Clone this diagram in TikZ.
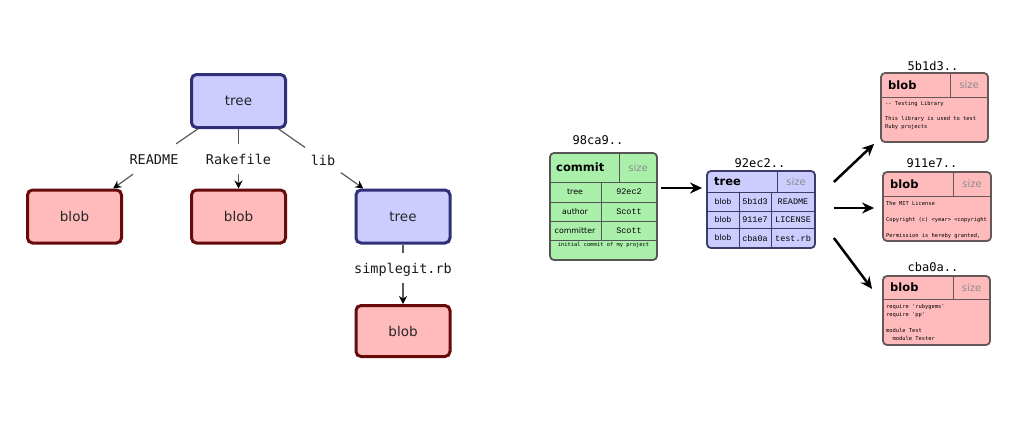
\documentclass[tikz,border=0pt]{standalone}
\usepackage{fontspec}
\setmainfont{DejaVu Sans}
\setmonofont{DejaVu Sans Mono}
\newfontfamily\cour{Liberation Mono}
\usetikzlibrary{arrows.meta,calc}
\definecolor{lblue}{RGB}{204,204,255}
\definecolor{dblue}{RGB}{48,48,122}
\definecolor{lred}{RGB}{255,187,187}
\definecolor{dred}{RGB}{102,10,10}
\definecolor{lgreen}{RGB}{170,240,170}
\definecolor{gframe}{RGB}{85,85,85}
\definecolor{tframe}{RGB}{60,60,105}
\definecolor{rframe}{RGB}{100,88,88}
\tikzset{
  lbox/.style={rounded corners=5, line width=3, minimum width=94, minimum height=53,
    font=\fontsize{13.5}{16}\selectfont, text=black!85, inner sep=0},
  ltree/.style={lbox, fill=lblue, draw=dblue},
  lblob/.style={lbox, fill=lred, draw=dred},
  flabel/.style={font=\ttfamily\fontsize{13.5}{16}\selectfont, text=black!90,
    minimum height=30, inner xsep=5.5, inner ysep=0, text height=10, text depth=0},
  lline/.style={line width=1.2, draw=black!65},
  larr/.style={lline, -{Stealth[length=8,width=8,color=black]}},
  rbox/.style={rounded corners=4, line width=1.8, inner sep=0},
  tline/.style={line width=1},
  hdr/.style={font=\bfseries\fontsize{11.5}{13}\selectfont, anchor=west, inner sep=0},
  sz/.style={font=\fontsize{10}{12}\selectfont, text=black!45, inner sep=0},
  cell/.style={font=\fontsize{7.8}{9}\selectfont, inner sep=0},
  mcell/.style={font=\cour\fontsize{8.5}{10}\selectfont, inner sep=0},
  msg/.style={font=\ttfamily\fontsize{5.4}{7}\selectfont, inner sep=0},
  hash/.style={font=\ttfamily\fontsize{12}{14}\selectfont, inner sep=0},
  btext/.style={font=\ttfamily\fontsize{5.4}{7.5}\selectfont, align=left, anchor=north west, inner sep=0},
  bigarr/.style={line width=2.5, -{Stealth[length=12,width=11]}}
}
\begin{document}
\begin{tikzpicture}[x=1pt,y=-1pt]
\useasboundingbox[fill=white] (0,0) rectangle (1026,421);

% ---------- left tree ----------
\node[ltree] (t1) at (238.5,101) {tree};
\node[lblob] (b1) at (74.5,216.5) {blob};
\node[lblob] (b2) at (238.5,216.5) {blob};
\node[ltree] (t2) at (403,216.5) {tree};
\node[lblob, minimum height=51] (b3) at (403,331) {blob};

\node[flabel] (lr) at (154,159) {README};
\node[flabel] (lk) at (238.5,159) {Rakefile};
\node[flabel] (ll) at (323,160) {lib};
\node[flabel] (ls) at (403,268) {simplegit.rb};

\draw[lline] (t1) -- (lr);
\draw[larr] (lr) -- (b1);
\draw[lline] (t1) -- (lk);
\draw[larr] (lk) -- (b2);
\draw[lline] (t1) -- (ll);
\draw[larr] (ll) -- (t2);
\draw[lline] (t2) -- (ls);
\draw[larr] (ls) -- (b3);

% ---------- commit ----------
\node[hash] (hc) at (598,140) {98ca9..};
\node[rbox, fill=lgreen, draw=gframe, minimum width=107, minimum height=107] (commit) at (603.5,206.5) {};
\begin{scope}[tline, draw=gframe]
  \draw (550,182) -- (657,182);
  \draw (619,153) -- (619,182);
  \draw (550,202) -- (657,202);
  \draw (550,221) -- (657,221);
  \draw (550,240) -- (657,240);
  \draw (601,182) -- (601,240);
\end{scope}
\node[hdr] (ch) at (556,167.5) {commit};
\node[sz] (cs) at (638,167.5) {size};
\node[cell] (ct1) at (575,192) {tree};
\node[mcell] (cv1) at (629,192) {92ec2};
\node[cell] (ct2) at (575,211.5) {author};
\node[mcell] (cv2) at (629,211.5) {Scott};
\node[cell] (ct3) at (575,230.5) {committer};
\node[mcell] (cv3) at (629,230.5) {Scott};
\node[msg] (cm) at (603.5,244.5) {initial commit of my project};

% ---------- tree ----------
\node[hash] (ht) at (760,163) {92ec2..};
\node[rbox, fill=lblue, draw=tframe, minimum width=108, minimum height=77] (tree) at (761,209.5) {};
\begin{scope}[tline, draw=tframe]
  \draw (707,192) -- (815,192);
  \draw (777,171) -- (777,192);
  \draw (707,211) -- (815,211);
  \draw (707,228) -- (815,228);
  \draw (739,192) -- (739,248);
  \draw (771,192) -- (771,248);
\end{scope}
\node[hdr] (th) at (714,181.5) {tree};
\node[sz] (ts) at (796,181.5) {size};
\node[cell] (tb1) at (723,201.5) {blob};
\node[mcell] (th1) at (755,201.5) {5b1d3};
\node[mcell] (tn1) at (793,201.5) {README};
\node[cell] (tb2) at (723,219.5) {blob};
\node[mcell] (th2) at (755,219.5) {911e7};
\node[mcell] (tn2) at (793,219.5) {LICENSE};
\node[cell] (tb3) at (723,238) {blob};
\node[mcell] (th3) at (755,238) {cba0a};
\node[mcell] (tn3) at (793,238) {test.rb};

% ---------- blobs ----------
\node[hash] (hb1) at (933,66) {5b1d3..};
\node[rbox, fill=lred, draw=rframe, minimum width=107, minimum height=69] (rb1) at (934.5,107.5) {};
\begin{scope}[tline, draw=rframe]
  \draw (881,97) -- (988,97);
  \draw (950,73) -- (950,97);
\end{scope}
\node[hdr] (rb1h) at (888,85) {blob};
\node[sz] (rb1s) at (969,85) {size};
\node[btext] (rb1t) at (885,101.5) {-{}- Testing Library\\[7.5pt]This library is used to test\\Ruby projects};

\node[hash] (hb2) at (932,163) {911e7..};
\node[rbox, fill=lred, draw=rframe, minimum width=108, minimum height=69] (rb2) at (937,206.5) {};
\begin{scope}[tline, draw=rframe]
  \draw (883,196) -- (991,196);
  \draw (953,172) -- (953,196);
\end{scope}
\node[hdr] (rb2h) at (890,184) {blob};
\node[sz] (rb2s) at (972,184) {size};
\node[btext] (rb2t) at (886,201) {The MIT License\\[8.5pt]Copyright (c) <year> <copyright\\[8.5pt]Permission is hereby granted,};

\node[hash] (hb3) at (933,267) {cba0a..};
\node[rbox, fill=lred, draw=rframe, minimum width=107, minimum height=69] (rb3) at (936.5,310.5) {};
\begin{scope}[tline, draw=rframe]
  \draw (883,299) -- (990,299);
  \draw (953,276) -- (953,299);
\end{scope}
\node[hdr] (rb3h) at (890,287.5) {blob};
\node[sz] (rb3s) at (971.5,287.5) {size};
\node[btext] (rb3t) at (886,304.5) {require 'rubygems'\\require 'pp'\\[9pt]module Test\\\phantom{mm}module Tester};

% ---------- arrows ----------
\draw[bigarr] ($(commit.east)+(3,-18.5)$) -- ($(tree.west)+(-4,-21.5)$);
\draw[bigarr] ($(tree.east)+(18,-27.5)$) -- ($(rb1.south west)+(-6,1)$);
\draw[bigarr] ($(tree.east)+(18,-1.5)$) -- ($(rb2.west)+(-8,1.5)$);
\draw[bigarr] ($(tree.east)+(18,28.5)$) -- ($(rb3.west)+(-10,-21.5)$);
\end{tikzpicture}
\end{document}
